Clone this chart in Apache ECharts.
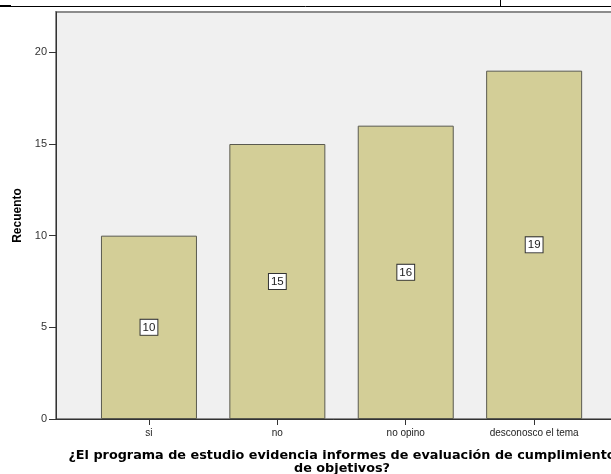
<!DOCTYPE html>
<html>
<head>
<meta charset="utf-8">
<script src="https://cdn.jsdelivr.net/npm/echarts@6/dist/echarts.min.js"></script>
<style>html,body{margin:0;padding:0;background:#fff;}#c{width:611px;height:474px;}</style>
</head>
<body>
<div id="c"></div>
<script>
const categories = ['si', 'no', 'no opino', 'desconosco el tema'];
const counts = [10, 15, 16, 19];
const yTicks = [0, 5, 10, 15, 20];
const xTitle = '¿El programa de estudio evidencia informes de evaluación de cumplimiento\nde objetivos?';
const yTitle = 'Recuento';

const chart = echarts.init(document.getElementById('c'), null, {renderer: 'canvas'});
const idx = categories.map((_, i) => i);
chart.setOption({
  animation: false,
  graphic: [
    {type: 'line', shape: {x1: 0, y1: 6.5, x2: 611, y2: 6.5}, style: {stroke: '#000', lineWidth: 1}},
    {type: 'line', shape: {x1: 0, y1: 5.5, x2: 11, y2: 5.5}, style: {stroke: '#000', lineWidth: 1}},
    {type: 'line', shape: {x1: 500.5, y1: 0, x2: 500.5, y2: 6}, style: {stroke: '#000', lineWidth: 1}}
  ],
  grid: {
    left: 56, top: 12, width: 572, bottom: 55,
    outerBoundsMode: 'none', containLabel: false,
    show: true, backgroundColor: '#f0f0f0', borderColor: '#8c8c8c', borderWidth: 2
  },
  xAxis: {
    type: 'value',
    min: -0.724, max: 3.731,
    splitLine: {show: false},
    axisLine: {lineStyle: {color: '#333', width: 1}},
    axisTick: {show: true, customValues: idx, length: 6, lineStyle: {color: '#333'}},
    axisLabel: {customValues: idx, formatter: v => categories[Math.round(v)], color: '#222',
      fontFamily: 'Liberation Sans', fontSize: 10, margin: 9},
    name: xTitle, nameLocation: 'middle', nameGap: 30,
    nameTextStyle: {fontFamily: 'DejaVu Sans', fontWeight: 'bold', fontSize: 12.8, color: '#000', lineHeight: 13}
  },
  yAxis: {
    type: 'value', min: 0, max: 22.2,
    splitLine: {show: false},
    axisLine: {show: true, onZero: false, lineStyle: {color: '#333', width: 1}},
    axisTick: {show: true, customValues: yTicks, length: 7, lineStyle: {color: '#333'}},
    axisLabel: {customValues: yTicks, color: '#333', fontFamily: 'Liberation Sans', fontSize: 11, margin: 9},
    name: yTitle, nameLocation: 'middle', nameGap: 31,
    nameTextStyle: {fontFamily: 'Liberation Sans', fontWeight: 'bold', fontSize: 12, color: '#000'}
  },
  series: [{
    type: 'bar',
    data: counts.map((v, i) => [i, v]),
    barWidth: 96,
    itemStyle: {color: '#d3ce97', borderColor: '#5a5a50', borderWidth: 1},
    label: {
      show: true, position: 'inside',
      formatter: p => String(p.value[1]),
      fontFamily: 'Liberation Sans', fontSize: 11.5, color: '#222',
      backgroundColor: '#fff', borderColor: '#333', borderWidth: 1,
      padding: [2, 2, 1, 2]
    }
  }]
});
</script>
</body>
</html>
